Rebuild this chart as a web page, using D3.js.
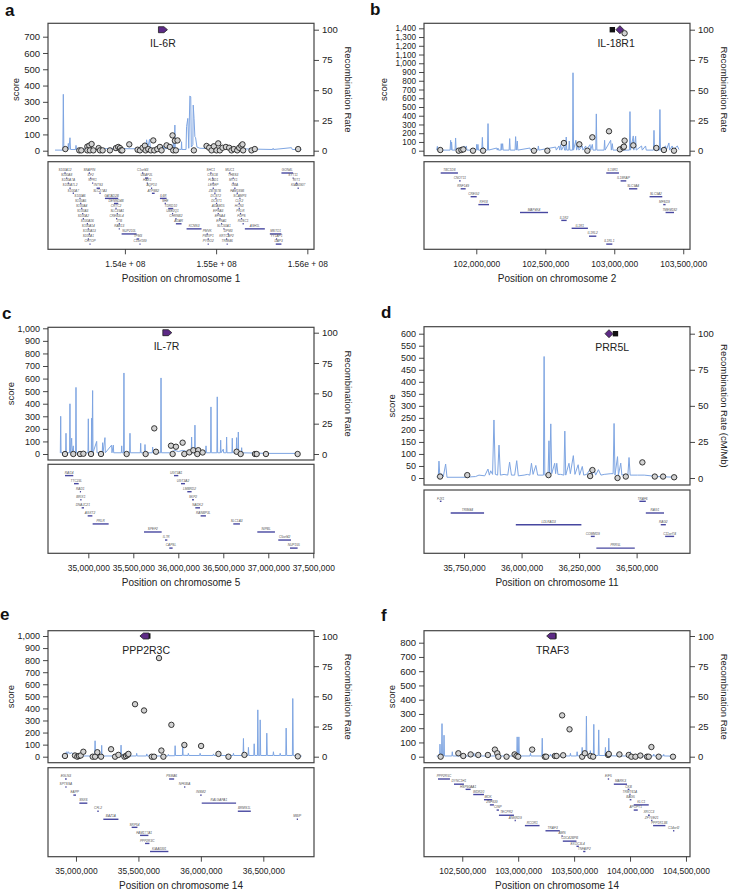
<!DOCTYPE html>
<html><head><meta charset="utf-8">
<script src="https://cdn.jsdelivr.net/npm/d3@7/dist/d3.min.js"></script>
<style>body{margin:0;background:#fff}svg{display:block}</style>
</head><body><svg id="chart" width="729" height="890"></svg>
<script>
// ===================== DATA (positions in Mb) =====================
const rateTicks = [0, 25, 50, 75, 100];

// ---- panel a : chromosome 1 ----
const chromA = "1";
const scoreTicksA = [0,100,200,300,400,500,600,700];
const xTicksA = [154, 155, 156];
const xTickLabelsA = ["1.54e + 08", "1.55e + 08", "1.56e + 08"];
const leadA = {gene: "IL-6R", pos: 154.417, shape: "arrowR", square: null};
const recA = [[153.234,0.5],[153.320,0.5],[153.325,46.6],[153.331,0.8],[153.375,1],[153.380,6],[153.385,1],[153.398,10.7],[153.404,1],[153.460,1],[153.464,4.4],[153.468,0.8],[153.600,1.5],[153.700,1],[153.800,1.8],[154.230,1.5],[154.238,9],[154.250,2],[154.270,9.4],[154.280,2],[154.418,1.5],[154.420,4],[154.424,1.5],[154.490,2],[154.493,5.5],[154.497,2],[154.528,2],[154.530,8.8],[154.540,2],[154.548,21.2],[154.552,1.5],[154.618,1],[154.621,7.4],[154.625,1],[154.670,1],[154.676,20],[154.690,26.7],[154.700,2],[154.712,45.2],[154.722,44.6],[154.728,3],[154.745,5],[154.749,37.7],[154.758,26.7],[154.767,11.6],[154.775,10.7],[154.790,3],[154.822,2],[155.000,1.5],[155.300,1.5],[155.620,1],[155.625,2],[155.630,1],[155.826,2.5],[155.835,1],[155.935,1]];
const snpA = [[153.347,10],[153.500,2],[153.522,2],[153.588,25],[153.610,31],[153.635,41],[153.588,2],[153.617,2],[153.654,2],[153.712,16],[153.727,2],[153.756,2],[153.836,2],[153.902,16],[153.927,23],[153.946,16],[153.957,2],[153.971,2],[154.048,39],[154.139,6],[154.165,2],[154.194,18],[154.219,31],[154.227,2],[154.256,10],[154.285,2],[154.311,63],[154.322,2],[154.355,10],[154.384,23],[154.402,2],[154.457,33],[154.493,23],[154.522,94],[154.530,2],[154.548,61],[154.577,63],[154.559,2],[154.756,2],[154.895,29],[154.924,18],[154.950,2],[154.975,27],[155.004,2],[155.023,45],[155.041,2],[155.070,18],[155.107,23],[155.143,18],[155.169,2],[155.194,10],[155.231,2],[155.253,18],[155.275,31],[155.289,39],[155.296,2],[155.388,2],[155.424,10],[155.899,10]];
const genesA = [["S100A12",153.337,153.349,0],["S100A8",153.355,153.367,1],["S100A7A",153.374,153.386,2],["S100A7L2",153.392,153.404,3],["S100A7",153.428,153.440,4],["S100A6",153.501,153.513,5],["S100A5",153.509,153.521,6],["S100A4",153.520,153.532,7],["S100A3",153.531,153.543,8],["S100A2",153.538,153.550,9],["S100A16",153.582,153.594,10],["S100A14",153.593,153.605,11],["S100A13",153.604,153.616,12],["S100A1",153.593,153.605,13],["CHTOP",153.611,153.623,14],["SNAPIN",153.604,153.616,0],["ILF2",153.618,153.630,1],["NPR1",153.640,153.652,2],["INTS3",153.690,153.727,3],["SLC27A3",153.721,153.733,4],["GATAD2B",153.781,153.927,5],["DENND4B",153.880,153.927,6],["CRTC2",153.896,153.908,7],["SLC39A1",153.910,153.922,8],["CREB3L4",153.903,153.915,9],["JTB",153.932,153.944,10],["RAB13",153.932,153.944,11],["NUP210L",153.964,154.128,12],["TPM3",154.128,154.157,13],["C1orf189",154.159,154.171,14],["C1orf43",154.188,154.200,0],["UBAP2L",154.220,154.256,1],["HAX1",154.239,154.251,2],["AQP10",154.286,154.298,3],["ATP8B2",154.296,154.326,4],["IL6R",154.384,154.457,5],["SHE",154.436,154.448,6],["TDRD10",154.475,154.530,7],["UBE2Q1",154.516,154.528,8],["CHRNB2",154.553,154.565,9],["ADAR",154.559,154.621,10],["KCNN3",154.676,154.840,11],["SHC1",154.936,154.948,0],["CKS1B",154.955,154.967,1],["FLAD1",154.962,154.974,2],["LENEP",154.962,154.974,3],["ZBTB7B",154.980,154.992,4],["DCST2",154.991,155.003,5],["DCST1",154.998,155.010,6],["ADAM15",155.017,155.029,7],["EFNA3",155.017,155.029,8],["EFNA4",155.035,155.047,9],["EFNA1",155.053,155.065,10],["SLC50A1",155.079,155.091,11],["PMVK",154.896,154.908,12],["PBXIP1",154.907,154.919,13],["PYGO2",154.907,154.919,14],["MUC1",155.144,155.156,0],["THBS3",155.181,155.193,1],["MTX1",155.181,155.193,2],["GBA",155.199,155.211,3],["FAM189B",155.225,155.237,4],["SCAMP3",155.254,155.266,5],["CLK2",155.247,155.259,6],["HCN3",155.247,155.259,7],["PKLR",155.261,155.273,8],["FDPS",155.272,155.284,9],["RUSC1",155.290,155.302,10],["ASH1L",155.315,155.534,11],["DPM3",155.126,155.138,12],["KRTCAP2",155.108,155.120,13],["TRIM46",155.115,155.127,14],["GON4L",155.716,155.844,0],["SYT11",155.838,155.850,1],["RIT1",155.875,155.887,2],["KIAA0907",155.893,155.905,3],["MSTO1",155.589,155.716,12],["YY1AP1",155.656,155.668,13],["DAP3",155.654,155.716,14]];

// ---- panel b : chromosome 2 ----
const chromB = "2";
const scoreTicksB = [0,100,200,300,400,500,600,700,800,900,1000,1100,1200,1300,1400];
const xTicksB = [102.0, 102.5, 103.0, 103.5];
const xTickLabelsB = ["102,000,000", "102,500,000", "103,000,000", "103,500,000"];
const leadB = {gene: "IL-18R1", pos: 103.041, shape: "diamond", square: 102.986};
const recB = [[101.713,0.5],[101.718,3.6],[101.722,0.5],[101.810,0.5],[101.814,8.6],[101.818,0.5],[101.821,7.1],[101.825,0.5],[101.846,0.5],[101.850,10.5],[101.854,0.5],[101.908,0.5],[101.911,3.9],[101.915,0.5],[101.928,3.9],[101.932,0.5],[102.000,0.5],[102.003,5.2],[102.007,0.5],[102.012,5.2],[102.016,0.5],[102.040,0.5],[102.044,11],[102.048,0.5],[102.051,3],[102.055,0.5],[102.081,0.5],[102.085,22.4],[102.089,0.5],[102.148,2.2],[102.152,0.5],[102.157,2.2],[102.161,0.5],[102.178,0.5],[102.181,5.8],[102.185,0.5],[102.191,5.8],[102.195,0.5],[102.238,0.5],[102.242,10],[102.246,0.5],[102.281,0.5],[102.285,11.6],[102.290,0.5],[102.297,8],[102.301,0.5],[102.389,2.2],[102.393,0.5],[102.446,0.5],[102.450,3.9],[102.454,0.5],[102.575,3],[102.580,0.5],[102.599,3.9],[102.605,0.5],[102.611,5],[102.618,0.5],[102.635,4.4],[102.640,0.5],[102.648,0.5],[102.652,11.3],[102.656,0.5],[102.670,0.5],[102.674,8],[102.678,0.5],[102.698,0.5],[102.701,64.4],[102.705,0.5],[102.722,8.6],[102.727,0.5],[102.739,5],[102.744,0.5],[102.768,3.9],[102.773,0.5],[102.793,3.9],[102.798,0.5],[102.824,5],[102.829,0.5],[102.841,5.2],[102.846,0.5],[102.866,0.5],[102.870,30.4],[102.874,0.5],[102.926,0.5],[102.930,8.6],[102.934,0.5],[102.974,8.6],[102.979,0.5],[102.986,5.8],[102.991,0.5],[103.110,0.5],[103.114,32.3],[103.118,0.5],[103.138,12.2],[103.142,0.5],[103.155,11.9],[103.159,0.5],[103.198,3.9],[103.203,0.5],[103.227,3.9],[103.232,0.5],[103.284,0.5],[103.288,16.8],[103.292,0.5],[103.327,0.5],[103.331,34],[103.335,0.5],[103.372,3.9],[103.377,0.5],[103.396,6.4],[103.401,0.5],[103.420,3.9],[103.425,0.5],[103.457,3.9],[103.469,1]];
const snpB = [[101.739,8],[101.872,0],[101.892,8],[101.906,15],[101.976,0],[102.049,0],[102.418,0],[102.515,0],[102.635,88],[102.747,73],[102.805,0],[102.841,153],[102.962,222],[103.041,15],[103.065,38],[103.070,46],[103.075,115],[103.138,61],[103.305,31],[103.360,8],[103.433,0],[103.075,1343]];
const genesB = [["TBC1D8",101.742,101.867,0],["CNOT11",101.875,101.887,1],["RNF149",101.887,101.923,2],["CREG2",101.959,102.003,3],["RFX8",102.015,102.092,4],["MAP4K4",102.317,102.520,5],["IL1R2",102.616,102.655,6],["IL1R1",102.691,102.809,7],["IL1RL2",102.817,102.870,8],["IL1RL1",102.942,102.986,9],["IL18R1",102.942,103.034,0],["IL18RAP",103.046,103.087,1],["SLC9A4",103.107,103.167,2],["SLC9A2",103.256,103.348,3],["MFSD9",103.355,103.372,4],["TMEM182",103.372,103.433,5]];

// ---- panel c : chromosome 5 ----
const chromC = "5";
const scoreTicksC = [0,100,200,300,400,500,600,700,800,900,1000];
const xTicksC = [35.0, 35.5, 36.0, 36.5, 37.0, 37.5];
const xTickLabelsC = ["35,000,000", "35,500,000", "36,000,000", "36,500,000", "37,000,000", "37,500,000"];
const leadC = {gene: "IL-7R", pos: 35.878, shape: "arrowR", square: 35.860};
const recC = [[34.685,1],[34.689,1],[34.693,31.1],[34.697,1],[34.748,1],[34.752,17.1],[34.756,1],[34.792,1],[34.796,41.4],[34.800,1],[34.815,13],[34.819,1],[34.833,6.7],[34.837,1],[34.859,1],[34.863,54.9],[34.867,1],[34.920,2],[34.925,1],[34.996,1],[35.000,29],[35.004,1],[35.033,1],[35.037,29.5],[35.041,1],[35.048,52.3],[35.052,1],[35.093,10.4],[35.097,1],[35.155,1],[35.159,9.3],[35.163,1],[35.185,13.5],[35.189,1],[35.259,7.3],[35.263,1],[35.278,7.3],[35.282,1],[35.367,1],[35.371,6.7],[35.375,1],[35.392,1],[35.396,66.8],[35.400,1],[35.459,1],[35.463,17.1],[35.467,1],[35.578,1],[35.582,8.8],[35.586,1],[35.626,1],[35.630,7.8],[35.634,1],[35.711,1],[35.715,5.7],[35.719,1],[35.804,1],[35.808,62.7],[35.812,1],[35.900,1],[35.960,3],[36.000,2],[36.050,3],[36.144,1],[36.148,14],[36.152,1],[36.181,1],[36.185,23.8],[36.189,1],[36.304,1],[36.308,6.7],[36.312,1],[36.359,1],[36.363,38.8],[36.367,1],[36.429,1],[36.433,47.1],[36.437,1],[36.467,1],[36.471,11.4],[36.475,1],[36.500,4],[36.504,1],[36.533,1],[36.537,14],[36.541,1],[36.596,1],[36.600,13],[36.604,1],[36.644,1],[36.648,13.5],[36.652,1],[36.663,1],[36.667,18.1],[36.671,1],[36.700,1],[36.704,5.2],[36.708,1],[37.000,0.5],[37.326,0.5]];
const snpC = [[34.741,0],[34.833,0],[34.908,0],[34.945,2],[35.030,0],[35.141,0],[35.426,0],[35.637,0],[35.733,204],[35.752,18],[35.919,66],[35.937,0],[35.974,58],[36.048,90],[36.067,0],[36.122,13],[36.167,30],[36.222,30],[36.211,0],[36.270,12],[36.648,18],[36.693,0],[36.852,0],[36.871,0],[36.974,0],[37.326,0]];
const genesC = [["RAI14",34.741,34.833,0],["TTC23L",34.841,34.893,1],["RAD1",34.906,34.916,2],["BRIX1",34.911,34.922,3],["DNAJC21",34.926,34.952,4],["AGXT2",34.993,35.045,5],["PRLR",35.048,35.226,6],["SPEF2",35.619,35.815,7],["IL7R",35.852,35.878,8],["CAPSL",35.900,35.937,9],["UGT3A1",35.952,36.000,0],["UGT3A2",36.030,36.074,1],["LMBRD2",36.100,36.148,2],["SKP2",36.152,36.174,3],["NADK2",36.189,36.241,4],["RANBP3L",36.248,36.307,5],["SLC1A3",36.611,36.685,6],["NIPBL",36.878,37.074,7],["C5orf42",37.111,37.252,8],["NUP155",37.241,37.326,9]];

// ---- panel d : chromosome 11 ----
const chromD = "11";
const scoreTicksD = [0,50,100,150,200,250,300,350,400,450,500,550,600];
const xTicksD = [35.75, 36.0, 36.25, 36.5];
const xTickLabelsD = ["35,750,000", "36,000,000", "36,250,000", "36,500,000"];
const leadD = {gene: "PRR5L", pos: 36.380, shape: "diamond", square: 36.408};
const recD = [[35.631,0.8],[35.638,1],[35.641,11.7],[35.645,1.5],[35.651,3],[35.660,1],[35.670,9.7],[35.676,0.5],[35.750,0.5],[35.800,1],[35.815,2],[35.840,1.5],[35.854,6.2],[35.860,2],[35.866,5],[35.874,2.5],[35.880,40.2],[35.886,2.5],[35.896,2],[35.902,22.8],[35.908,2],[35.924,2.5],[35.940,2],[35.948,11],[35.956,2],[35.970,2],[35.979,12],[35.986,1.5],[36.011,2],[36.025,2.5],[36.036,2],[36.043,10.2],[36.050,2.5],[36.062,8.7],[36.070,2],[36.095,2],[36.098,84.2],[36.101,2],[36.115,2],[36.119,25.8],[36.122,3],[36.127,37.5],[36.131,3],[36.144,10.2],[36.148,3],[36.153,10.2],[36.158,2.5],[36.170,2.5],[36.184,2],[36.188,32.5],[36.192,2],[36.206,10.2],[36.212,3],[36.225,15.5],[36.232,2.5],[36.246,9.2],[36.252,2],[36.264,8],[36.270,2],[36.283,2.5],[36.301,6.8],[36.307,2.5],[36.315,5.8],[36.322,2],[36.334,5.8],[36.345,2],[36.359,2.5],[36.388,3],[36.398,3],[36.402,37.8],[36.406,2],[36.417,14.8],[36.421,2],[36.431,10.3],[36.436,2],[36.446,2.5],[36.462,2],[36.467,14.2],[36.472,2],[36.504,2],[36.533,2],[36.562,1.5],[36.591,1],[36.620,0.8],[36.677,0.5]];
const snpD = [[35.646,6],[35.764,12],[36.117,12],[36.298,8],[36.308,33],[36.417,0],[36.453,6],[36.525,65],[36.579,6],[36.615,6],[36.663,3]];
const genesD = [["FJX1",35.645,35.652,0],["TRIM44",35.692,35.837,1],["LDLRAD3",35.975,36.260,2],["COMMD9",36.301,36.318,3],["PRR5L",36.325,36.492,4],["TRAF6",36.512,36.540,0],["RAG1",36.540,36.619,1],["RAG2",36.605,36.627,2],["C11orf74",36.624,36.663,3]];

// ---- panel e : chromosome 14 ----
const chromE = "14";
const scoreTicksE = [0,100,200,300,400,500,600,700,800,900,1000];
const xTicksE = [35.0, 35.5, 36.0, 36.5];
const xTickLabelsE = ["35,000,000", "35,500,000", "36,000,000", "36,500,000"];
const leadE = {gene: "PPP2R3C", pos: 35.548, shape: "arrowL", square: 35.575};
const recE = [[34.886,0.5],[34.900,1],[34.926,4.1],[34.932,2],[34.939,4.1],[34.950,2.5],[34.966,3.3],[34.980,2],[35.006,2.5],[35.020,0.6],[35.150,0.6],[35.153,13.2],[35.156,0.6],[35.203,0.6],[35.206,9.4],[35.209,0.6],[35.358,0.6],[35.361,9.6],[35.364,0.6],[35.417,0.6],[35.420,4.1],[35.424,0.6],[35.483,0.6],[35.486,2.8],[35.490,0.6],[35.564,0.6],[35.567,2.3],[35.571,0.6],[35.737,0.6],[35.740,1.9],[35.744,0.8],[35.791,0.8],[35.794,9.1],[35.797,1],[35.852,1],[35.855,8.5],[35.858,1.2],[35.897,1],[35.900,2.8],[35.904,1],[35.991,1],[35.994,2.8],[35.998,1],[36.098,1],[36.101,2.3],[36.105,1],[36.205,1],[36.208,1.9],[36.212,1],[36.258,1],[36.261,2.8],[36.265,1],[36.338,1],[36.341,15.1],[36.344,1],[36.378,1],[36.381,7.7],[36.385,1],[36.424,1],[36.427,10.7],[36.431,1],[36.453,1],[36.456,38.8],[36.460,1],[36.472,1],[36.475,30.5],[36.479,1],[36.525,1],[36.528,19.5],[36.532,1],[36.578,1],[36.581,4.1],[36.585,1],[36.632,1],[36.635,2.8],[36.639,1],[36.680,1],[36.683,23.7],[36.687,1],[36.733,1],[36.736,48.2],[36.740,1],[36.808,0.5]];
const snpE = [[34.912,6],[34.992,10],[35.011,0],[35.024,6],[35.038,10],[35.059,41],[35.134,0],[35.153,0],[35.171,37],[35.201,0],[35.281,62],[35.313,0],[35.340,15],[35.388,0],[35.401,6],[35.414,15],[35.420,23],[35.473,435],[35.545,383],[35.607,0],[35.625,0],[35.665,817],[35.684,51],[35.700,0],[35.764,264],[35.868,97],[36.002,89],[36.141,23],[36.221,0],[36.349,15],[36.776,3]];
const genesE = [["EGLN3",34.912,34.926,0],["SPTSSA",34.915,34.923,1],["EAPP",34.979,35.000,2],["SNX6",35.027,35.091,3],["CFL2",35.171,35.182,4],["BAZ1A",35.219,35.340,5],["SRP54",35.446,35.492,6],["FAM177A1",35.513,35.580,7],["PPP2R3C",35.553,35.588,8],["KIAA0391",35.593,35.740,9],["PSMA6",35.746,35.786,0],["NFKBIA",35.866,35.874,1],["INSM2",35.994,36.007,2],["RALGAPA1",36.007,36.282,3],["BRMS1L",36.296,36.400,4],["MBIP",36.768,36.776,5]];

// ---- panel f : chromosome 14 ----
const chromF = "14";
const scoreTicksF = [0,100,200,300,400,500,600,700,800];
const xTicksF = [102.5, 103.0, 103.5, 104.0, 104.5];
const xTickLabelsF = ["102,500,000", "103,000,000", "103,500,000", "104,000,000", "104,500,000"];
const leadF = {gene: "TRAF3", pos: 103.295, shape: "arrowL", square: 103.319};
const recF = [[102.271,0.6],[102.297,0.6],[102.301,10.4],[102.305,0.8],[102.315,0.8],[102.319,27.4],[102.323,0.8],[102.333,0.8],[102.337,17.8],[102.341,0.6],[102.407,0.6],[102.411,4.1],[102.415,0.6],[102.481,0.6],[102.485,2.8],[102.489,0.6],[102.600,0.6],[102.604,2.8],[102.608,0.6],[102.809,0.6],[102.813,2.8],[102.817,0.6],[102.898,0.6],[102.902,2.2],[102.906,0.6],[102.987,0.6],[102.991,16.4],[102.995,0.6],[103.002,0.6],[103.006,16.4],[103.010,0.6],[103.106,0.6],[103.110,2.8],[103.114,0.6],[103.211,0.6],[103.215,15.3],[103.219,0.6],[103.285,0.6],[103.289,2.2],[103.293,0.6],[103.404,0.6],[103.408,2.8],[103.412,0.6],[103.463,0.6],[103.467,2.8],[103.471,0.6],[103.523,0.6],[103.527,4.1],[103.531,0.6],[103.568,0.8],[103.572,7.7],[103.576,0.8],[103.606,0.8],[103.610,33.6],[103.614,1],[103.640,1],[103.645,5],[103.650,1],[103.672,1],[103.676,26.8],[103.680,1],[103.716,1],[103.720,22.2],[103.724,1],[103.776,1],[103.780,7.7],[103.784,1],[103.806,1],[103.810,15.3],[103.814,0.8],[103.880,0.6],[103.884,2.8],[103.888,0.6],[103.999,0.6],[104.003,4.1],[104.007,0.6],[104.088,0.6],[104.092,2.8],[104.096,0.6],[104.208,0.6],[104.212,2.2],[104.216,0.6],[104.297,0.6],[104.301,1.9],[104.305,0.6],[104.405,0.5]];
const snpF = [[102.307,0],[102.465,24],[102.509,5],[102.575,16],[102.643,12],[102.729,12],[102.792,50],[102.813,24],[102.822,0],[102.896,0],[102.968,16],[102.985,5],[103.000,0],[103.125,50],[103.238,0],[103.250,0],[103.328,5],[103.343,5],[103.393,290],[103.402,10],[103.459,192],[103.572,0],[103.596,24],[103.646,5],[103.670,0],[103.804,12],[103.810,19],[103.905,16],[103.988,12],[104.012,0],[104.048,0],[104.092,8],[104.152,0],[104.167,0],[104.191,68],[104.256,0],[104.384,0]];
const genesF = [["PPP2R5C",102.283,102.390,0],["DYNC1H1",102.426,102.515,1],["HSP90AA1",102.530,102.575,2],["WDR20",102.598,102.694,3],["MOK",102.694,102.768,4],["ZNF839",102.747,102.783,5],["CINP",102.807,102.828,6],["TECPR2",102.828,102.962,7],["ANKRD9",102.968,102.979,8],["RCOR1",103.060,103.191,9],["TRAF3",103.244,103.372,10],["AMN",103.387,103.396,11],["CDC42BPB",103.399,103.521,12],["EXOC3L4",103.521,103.542,13],["TNFAIP2",103.581,103.601,14],["EIF5",103.801,103.813,0],["MARK3",103.855,103.973,1],["CKB",103.979,103.994,2],["TRMT61A",103.994,104.003,3],["BAG5",103.997,104.012,4],["KLC1",104.033,104.167,5],["APOPT1",104.033,104.069,6],["XRCC3",104.161,104.176,7],["ZFYVE21",104.188,104.200,8],["PPP1R13B",104.206,104.316,9],["C14orf2",104.384,104.396,10]];

// ===================== LAYOUT =====================
const panels = [
  {id:"a", lx:5, ly:15.5, left:48, right:314, top:23.3, bottom:155.7, y0:150.7, yR100:29.7, sMax:700, ySMax:36.7, gTop:161.7, gBot:249.3, titleY:281.5, xDom:[153.157,156.073], yFont:9.5, scoreDx:33,
   chrom:chromA, sTicks:scoreTicksA, xT:xTicksA, xL:xTickLabelsA, lead:leadA, rec:recA, snp:snpA, genes:genesA, recLabel:"Recombination Rate"},
  {id:"b", lx:370, ly:15, left:424, right:690, top:23.3, bottom:155.7, y0:150.7, yR100:29.7, sMax:1400, ySMax:28.3, gTop:161.7, gBot:249.3, titleY:281.5, xDom:[101.621,103.549], yFont:8.2, scoreDx:41,
   chrom:chromB, sTicks:scoreTicksB, xT:xTicksB, xL:xTickLabelsB, lead:leadB, rec:recB, snp:snpB, genes:genesB, recLabel:"Recombination Rate"},
  {id:"c", lx:2, ly:318.5, left:48, right:314, top:327.3, bottom:460, y0:454, yR100:332.7, sMax:1000, ySMax:328.3, gTop:464.3, gBot:553.3, titleY:585.5, xDom:[34.552,37.508], yFont:9, scoreDx:38,
   chrom:chromC, sTicks:scoreTicksC, xT:xTicksC, xL:xTickLabelsC, lead:leadC, rec:recC, snp:snpC, genes:genesC, recLabel:"Recombination Rate"},
  {id:"d", lx:381, ly:318, left:424, right:690, top:326.7, bottom:485, y0:478, yR100:333.7, sMax:600, ySMax:333.7, gTop:490, gBot:553.3, titleY:585.5, xDom:[35.576,36.732], yFont:9, scoreDx:33,
   chrom:chromD, sTicks:scoreTicksD, xT:xTicksD, xL:xTickLabelsD, lead:leadD, rec:recD, snp:snpD, genes:genesD, recLabel:"Recombination Rate (cM/Mb)"},
  {id:"e", lx:0, ly:620, left:48, right:314, top:630.7, bottom:762.7, y0:756.7, yR100:636, sMax:1000, ySMax:636, gTop:767.7, gBot:856.7, titleY:888.5, xDom:[34.776,36.906], yFont:9, scoreDx:38,
   chrom:chromE, sTicks:scoreTicksE, xT:xTicksE, xL:xTickLabelsE, lead:leadE, rec:recE, snp:snpE, genes:genesE, recLabel:"Recombination Rate"},
  {id:"f", lx:381, ly:621, left:424, right:690, top:630.7, bottom:762.7, y0:756.7, yR100:636, sMax:800, ySMax:642.7, gTop:767.7, gBot:856.7, titleY:888.5, xDom:[102.158,104.536], yFont:9.5, scoreDx:33,
   chrom:chromF, sTicks:scoreTicksF, xT:xTicksF, xL:xTickLabelsF, lead:leadF, rec:recF, snp:snpF, genes:genesF, recLabel:"Recombination Rate"}
];

const FONT = '"Liberation Sans", Arial, Helvetica, sans-serif';
const svg = d3.select("#chart");
svg.append("rect").attr("width",729).attr("height",890).attr("fill","#fff");

function styleAxis(sel, size) {
  sel.select(".domain").remove();
  sel.selectAll("line").attr("stroke", "#333").attr("stroke-width", 0.9);
  sel.selectAll("text").attr("font-family", FONT).attr("font-size", size).attr("fill", "#222");
}

function markerPath(shape, cx, cy) {
  if (shape === "diamond") return `M${cx},${cy-4}L${cx+4},${cy}L${cx},${cy+4}L${cx-4},${cy}Z`;
  if (shape === "arrowR") return `M${cx-4.5},${cy-3}L${cx+1},${cy-3}L${cx+4.5},${cy}L${cx+1},${cy+3}L${cx-4.5},${cy+3}Z`;
  return `M${cx+4.5},${cy-3}L${cx-1},${cy-3}L${cx-4.5},${cy}L${cx-1},${cy+3}L${cx+4.5},${cy+3}Z`;
}

panels.forEach(p => {
  const g = svg.append("g");
  const x = d3.scaleLinear().domain(p.xDom).range([p.left, p.right]);
  const yS = d3.scaleLinear().domain([0, p.sMax]).range([p.y0, p.ySMax]);
  const yR = d3.scaleLinear().domain([0, 100]).range([p.y0, p.yR100]);

  // panel letter
  g.append("text").attr("x", p.lx).attr("y", p.ly).text(p.id)
    .attr("font-family", FONT).attr("font-weight", "bold").attr("font-size", 17).attr("fill", "#111");

  // recombination line
  g.append("path").datum(p.rec)
    .attr("d", d3.line().x(d => x(d[0])).y(d => yR(d[1])))
    .attr("fill", "none").attr("stroke", "#7ea5e2").attr("stroke-width", 1).attr("stroke-linejoin", "round");

  // SNP circles
  g.append("g").selectAll("circle").data(p.snp).join("circle")
    .attr("cx", d => x(d[0])).attr("cy", d => yS(d[1])).attr("r", 2.7)
    .attr("fill", "#d2d2d2").attr("stroke", "#222").attr("stroke-width", 0.9);

  // lead markers (top of panel)
  const my = yR(100);
  if (p.lead.square !== null) {
    g.append("rect").attr("x", x(p.lead.square) - 2.7).attr("y", my - 2.7).attr("width", 5.4).attr("height", 5.4)
      .attr("fill", "#111");
  }
  g.append("path").attr("d", markerPath(p.lead.shape, x(p.lead.pos), my))
    .attr("fill", "#5d2a86").attr("stroke", "#222").attr("stroke-width", 0.8);
  const lxPos = p.lead.square !== null ? (x(p.lead.pos) + x(p.lead.square)) / 2 : x(p.lead.pos);
  g.append("text").attr("x", lxPos).attr("y", my + 17.5).attr("text-anchor", "middle")
    .attr("font-family", FONT).attr("font-size", 10.5).attr("fill", "#222").text(p.lead.gene);

  // frames
  g.append("rect").attr("x", p.left).attr("y", p.top).attr("width", p.right - p.left).attr("height", p.bottom - p.top)
    .attr("fill", "none").attr("stroke", "#444").attr("stroke-width", 1.2);
  g.append("rect").attr("x", p.left).attr("y", p.gTop).attr("width", p.right - p.left).attr("height", p.gBot - p.gTop)
    .attr("fill", "none").attr("stroke", "#444").attr("stroke-width", 1.2);

  // left score axis
  g.append("g").attr("transform", `translate(${p.left},0)`)
    .call(d3.axisLeft(yS).tickValues(p.sTicks).tickSize(5).tickPadding(3).tickFormat(d3.format(",")))
    .call(s => styleAxis(s, p.yFont));
  // right recombination axis
  g.append("g").attr("transform", `translate(${p.right},0)`)
    .call(d3.axisRight(yR).tickValues(rateTicks).tickSize(5).tickPadding(3))
    .call(s => styleAxis(s, 9.5));

  const midY = (p.top + p.bottom) / 2;
  g.append("text").attr("transform", `translate(${p.left - p.scoreDx},${midY}) rotate(-90)`)
    .attr("text-anchor", "middle").attr("dominant-baseline", "central")
    .attr("font-family", FONT).attr("font-size", 9.5).attr("fill", "#222").text("score");
  g.append("text").attr("transform", `translate(${p.right + 34},${midY}) rotate(90)`)
    .attr("text-anchor", "middle").attr("dominant-baseline", "central")
    .attr("font-family", FONT).attr("font-size", 9.5).attr("fill", "#222").text(p.recLabel);

  // gene track
  const nRows = d3.max(p.genes, d => d[3]) + 1;
  const row = d3.scalePoint().domain(d3.range(nRows)).range([p.gTop + 9.5, p.gBot - 7]);
  const gg = g.append("g");
  gg.selectAll("line").data(p.genes).join("line")
    .attr("x1", d => x(d[1])).attr("x2", d => Math.max(x(d[2]), x(d[1]) + 1.2))
    .attr("y1", d => row(d[3]) + 1.8).attr("y2", d => row(d[3]) + 1.8)
    .attr("stroke", "#4747a0").attr("stroke-width", 1.4);
  gg.selectAll("text").data(p.genes).join("text")
    .attr("x", d => (x(d[1]) + x(d[2])) / 2).attr("y", d => row(d[3]))
    .attr("text-anchor", "middle").attr("font-family", FONT).attr("font-style", "italic")
    .attr("font-size", 3.2).attr("fill", "#555").text(d => d[0]);

  // x axis below gene track (labels slightly condensed like the reference)
  g.append("g").attr("transform", `translate(0,${p.gBot})`)
    .call(d3.axisBottom(x).tickValues(p.xT).tickSize(5).tickPadding(6).tickFormat((d, i) => p.xL[i]))
    .call(s => styleAxis(s, 9.6))
    .call(s => s.selectAll("text").attr("transform", "scale(0.88,1)"));
  g.append("text").attr("x", (p.left + p.right) / 2).attr("y", p.titleY).attr("text-anchor", "middle")
    .attr("font-family", FONT).attr("font-size", 10).attr("fill", "#222").text("Position on chromosome " + p.chrom);
});
</script>
</body></html>
